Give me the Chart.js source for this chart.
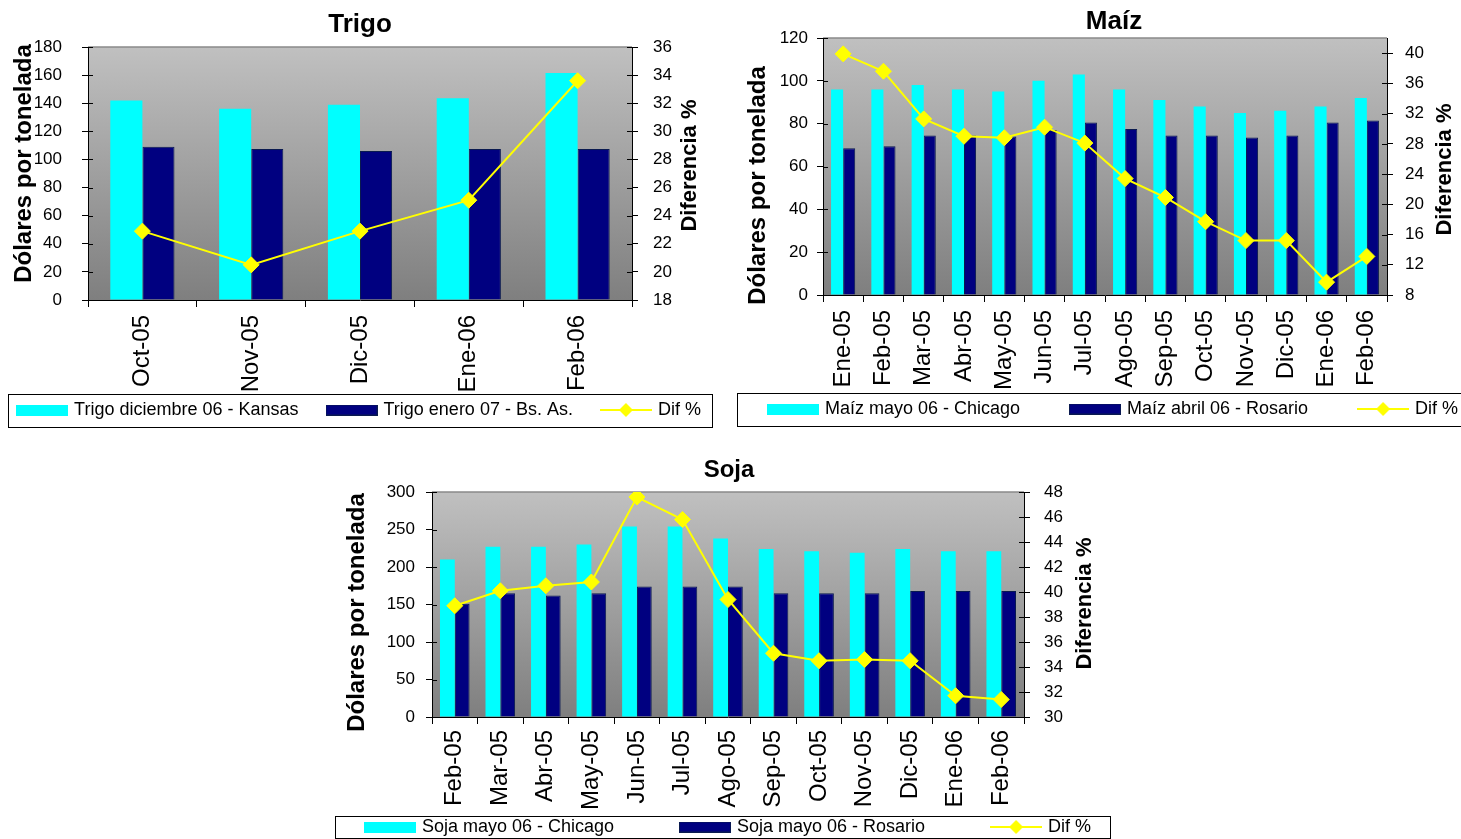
<!DOCTYPE html>
<html><head><meta charset="utf-8">
<script src="https://cdn.jsdelivr.net/npm/chart.js@4"></script>
<style>
html,body{margin:0;padding:0;background:#fff;overflow:hidden;width:1461px;height:839px;position:relative}
.cbox{position:absolute}
</style></head><body>
<div class="cbox" id="b1" style="left:-20px;top:0px;width:760px;height:429px"><canvas id="c1"></canvas></div>
<div class="cbox" id="b2" style="left:694px;top:0px;width:840px;height:428px"><canvas id="c2"></canvas></div>
<div class="cbox" id="b3" style="left:279px;top:450px;width:900px;height:396px"><canvas id="c3"></canvas></div>
<script>
// ---------------- DATA ----------------
const trigoTitle = 'Trigo';
const trigoCategories = ['Oct-05','Nov-05','Dic-05','Ene-06','Feb-06'];
const trigoLabels = ['Trigo diciembre 06 - Kansas','Trigo enero 07 - Bs. As.','Dif %'];
const trigoKansas = [142,136,139,143.5,161.5];
const trigoBsAs = [109,107.5,106,107.5,107.5];
const trigoDif = [22.9,20.5,22.9,25.1,33.6];
const trigoLeftTicks = {min:0,max:180,step:20};
const trigoRightTicks = {min:18,max:36,step:2};

const maizTitle = 'Maíz';
const maizCategories = ['Ene-05','Feb-05','Mar-05','Abr-05','May-05','Jun-05','Jul-05','Ago-05','Sep-05','Oct-05','Nov-05','Dic-05','Ene-06','Feb-06'];
const maizLabels = ['Maíz mayo 06 - Chicago','Maíz abril 06 - Rosario','Dif %'];
const maizChicago = [96,96,98,96,95,100,103,96,91,88,85,86,88,92];
const maizRosario = [68.5,69.5,74.5,74.5,74,77,80.5,77.5,74.5,74.5,73.5,74.5,80.5,81.5];
const maizDif = [39.9,37.6,31.3,29.0,28.8,30.2,28.1,23.4,20.9,17.7,15.2,15.2,9.7,13.1];
const maizLeftTicks = {min:0,max:120,step:20};
const maizRightTicks = {min:8,max:42,step:4};

const sojaTitle = 'Soja';
const sojaCategories = ['Feb-05','Mar-05','Abr-05','May-05','Jun-05','Jul-05','Ago-05','Sep-05','Oct-05','Nov-05','Dic-05','Ene-06','Feb-06'];
const sojaLabels = ['Soja mayo 06 - Chicago','Soja mayo 06 - Rosario','Dif %'];
const sojaChicago = [210,227,227,230,254,254,238,224,221,219,224,221,221];
const sojaRosario = [151,165,162,165,174,174,174,165,165,165,168,168,168];
const sojaDif = [38.9,40.1,40.5,40.8,47.6,45.8,39.4,35.1,34.5,34.6,34.5,31.7,31.4];
const sojaLeftTicks = {min:0,max:300,step:50};
const sojaRightTicks = {min:30,max:48,step:2};

const leftAxisTitle = 'Dólares por tonelada';
const rightAxisTitle = 'Diferencia %';

// ---------------- STYLE ----------------
const FONT = '"Liberation Sans", Arial, Helvetica, sans-serif';
const CYAN = '#00ffff', NAVY = '#000080', YELLOW = '#ffff00';
Chart.defaults.font.family = FONT;
Chart.defaults.color = '#000';
Chart.defaults.animation = false;

function swatch(color, border) {
  const c = document.createElement('canvas'); c.width = 52; c.height = 11;
  const x = c.getContext('2d'); x.fillStyle = color; x.fillRect(0,0,52,11);
  if (border) { x.strokeStyle = border; x.lineWidth = 1; x.strokeRect(0.5,0.5,51,10); }
  return c;
}
function lineMark() {
  const c = document.createElement('canvas'); c.width = 52; c.height = 16;
  const x = c.getContext('2d');
  x.strokeStyle = YELLOW; x.lineWidth = 2; x.beginPath(); x.moveTo(0,8); x.lineTo(52,8); x.stroke();
  x.fillStyle = YELLOW; x.beginPath(); x.moveTo(26,1); x.lineTo(33,8); x.lineTo(26,15); x.lineTo(19,8); x.closePath(); x.fill();
  return c;
}
const legendMarks = [swatch(CYAN), swatch(NAVY,'#0a1a50'), lineMark()];

const plotBg = {
  id: 'plotBg',
  beforeDraw(chart) {
    const {ctx, chartArea: a} = chart;
    const g = ctx.createLinearGradient(0, a.top, 0, a.bottom);
    g.addColorStop(0, '#c0c0c0'); g.addColorStop(1, '#7f7f7f');
    ctx.save(); ctx.fillStyle = g; ctx.fillRect(a.left, a.top, a.width, a.height);
    ctx.strokeStyle = '#8a8a8a'; ctx.lineWidth = 1.5;
    ctx.beginPath(); ctx.moveTo(a.left, a.top); ctx.lineTo(a.right, a.top); ctx.stroke();
    ctx.restore();
  }
};
// x tick labels are long rotated texts: let them extend below the axis box
const labelRoom = {
  id: 'labelRoom',
  afterLayout(chart) {
    const s = chart.scales.x;
    s.bottom = chart.height; s.height = s.bottom - s.top;
  }
};
// inner half of the "cross" tick marks on the value axes
const innerTicks = {
  id: 'innerTicks',
  afterDraw(chart) {
    const {ctx, chartArea: a} = chart;
    ctx.save(); ctx.strokeStyle = '#000'; ctx.lineWidth = 1;
    ['y','y1'].forEach(id => {
      const s = chart.scales[id];
      const x0 = id === 'y' ? a.left : a.right;
      const dir = id === 'y' ? 1 : -1;
      s.ticks.forEach(t => {
        const py = Math.round(s.getPixelForValue(t.value)) + 0.5;
        ctx.beginPath(); ctx.moveTo(x0, py); ctx.lineTo(x0 + dir * 5, py); ctx.stroke();
      });
    });
    ctx.restore();
  }
};
// axis titles, both reading bottom-to-top as in the original
const axisTitles = {
  id: 'axisTitles',
  afterDraw(chart, args, o) {
    const {ctx, chartArea: a} = chart;
    const mid = (a.top + a.bottom) / 2;
    const draw = (text, x, y, size) => {
      ctx.save(); ctx.translate(x, y); ctx.rotate(-Math.PI / 2);
      ctx.font = 'bold ' + size + 'px ' + FONT;
      ctx.fillStyle = '#000'; ctx.textAlign = 'center'; ctx.textBaseline = 'middle';
      ctx.fillText(text, 0, 0); ctx.restore();
    };
    draw(o.left, a.left - o.leftOffset, mid + o.leftShift, 24);
    draw(o.right, a.right + o.rightOffset, mid + o.rightShift, 22);
  }
};
const legendFrame = {
  id: 'legendFrame',
  afterDraw(chart, args, o) {
    const lg = chart.legend, ctx = chart.ctx;
    const lo = lg.options.labels;
    const cy = lg.top + lo.padding + lo.font.size / 2;
    ctx.save(); ctx.strokeStyle = '#000'; ctx.lineWidth = 1;
    const x0 = Math.round(lg.left + o.insetLeft) + 0.5, x1 = Math.round(lg.right - o.insetRight) + 0.5;
    const y0 = Math.round(cy - o.half) + 0.5, y1 = Math.round(cy + o.half) + 0.5;
    ctx.strokeRect(x0, y0, x1 - x0, y1 - y0);
    ctx.restore();
  }
};

function filterTicks(r) {
  return (s) => { s.ticks = s.ticks.filter(t => Math.abs(((t.value - r.min) / r.step) - Math.round((t.value - r.min) / r.step)) < 1e-6); };
}

function makeChart(id, d, L) {
  return new Chart(document.getElementById(id), {
    type: 'bar',
    data: {
      labels: d.categories,
      datasets: [
        {label: d.labels[0], data: d.a, backgroundColor: CYAN, borderWidth: 0, yAxisID: 'y',
         categoryPercentage: L.catPct, barPercentage: 1.0},
        {label: d.labels[1], data: d.b, backgroundColor: NAVY, borderColor: '#0a1a50', borderWidth: 1, yAxisID: 'y',
         categoryPercentage: L.catPct, barPercentage: 1.0},
        {type: 'line', label: d.labels[2], data: d.dif, yAxisID: 'y1', order: -1,
         borderColor: YELLOW, borderWidth: 2, backgroundColor: YELLOW, tension: 0,
         pointStyle: 'rectRot', pointRadius: 8, pointHoverRadius: 8,
         pointBackgroundColor: YELLOW, pointBorderColor: YELLOW, pointBorderWidth: 1}
      ]
    },
    options: {
      responsive: true, maintainAspectRatio: false,
      layout: {padding: 0},
      plugins: {
        title: {display: true, text: d.title, color: '#000',
                font: {size: L.titleSize, weight: 'bold'}, padding: {top: L.titleTop, bottom: L.titleBottom}},
        legend: {display: true, position: 'bottom',
          labels: {usePointStyle: true, pointStyleWidth: 46, padding: L.legendPad, color: '#000',
                   font: {size: 18},
                   sort: (a, b) => a.datasetIndex - b.datasetIndex,
                   generateLabels(chart) {
                     const items = Chart.defaults.plugins.legend.labels.generateLabels(chart);
                     items.forEach(it => { it.pointStyle = legendMarks[it.datasetIndex]; it.rotation = 0; });
                     return items;
                   }}},
        tooltip: {enabled: false},
        axisTitles: {left: leftAxisTitle, right: rightAxisTitle,
                     leftOffset: L.leftTitleOffset, leftShift: L.leftTitleShift,
                     rightOffset: L.rightTitleOffset, rightShift: L.rightTitleShift},
        legendFrame: {insetLeft: L.frameLeft, insetRight: L.frameRight, half: L.frameHalf}
      },
      scales: {
        x: {
          type: 'category', offset: true,
          grid: {offset: true, drawOnChartArea: false, drawTicks: true, tickLength: 7, color: '#000', lineWidth: 1},
          border: {display: true, color: '#000', width: 1},
          ticks: {autoSkip: false, maxRotation: 90, minRotation: 90, padding: L.xPad, font: {size: 24}, color: '#000'},
          afterFit: (s) => { s.height = L.xHeight; }
        },
        y: {
          position: 'left', min: d.left.min, max: d.left.max,
          ticks: {stepSize: d.left.step, includeBounds: false, padding: L.yPad, font: {size: 17}, color: '#000'},
          grid: {drawOnChartArea: false, tickLength: 6, color: '#000'},
          border: {display: true, color: '#000', width: 1},
          afterBuildTicks: filterTicks(d.left),
          afterFit: (s) => { s.width = L.yWidth; }
        },
        y1: {
          position: 'right', min: d.right.min, max: d.right.max,
          ticks: {stepSize: d.right.step, includeBounds: false, padding: L.y1Pad, font: {size: 17}, color: '#000'},
          grid: {drawOnChartArea: false, tickLength: 6, color: '#000'},
          border: {display: true, color: '#000', width: 1},
          afterBuildTicks: filterTicks(d.right),
          afterFit: (s) => { s.width = L.y1Width; }
        }
      }
    },
    plugins: [plotBg, labelRoom, innerTicks, axisTitles, legendFrame]
  });
}

makeChart('c1',
  {title: trigoTitle, categories: trigoCategories, labels: trigoLabels, a: trigoKansas, b: trigoBsAs, dif: trigoDif,
   left: trigoLeftTicks, right: trigoRightTicks},
  {catPct: 0.59, titleSize: 26, titleTop: 9.4, titleBottom: 6.4, legendPad: 30, xHeight: 71, xPad: 8,
   yWidth: 108, y1Width: 108, yPad: 20, y1Pad: 15,
   leftTitleOffset: 64, leftTitleShift: -10, rightTitleOffset: 58, rightTitleShift: -8,
   frameLeft: 28, frameRight: 28, frameHalf: 16.5});

makeChart('c2',
  {title: maizTitle, categories: maizCategories, labels: maizLabels, a: maizChicago, b: maizRosario, dif: maizDif,
   left: maizLeftTicks, right: maizRightTicks},
  {catPct: 0.6, titleSize: 26, titleTop: 6.4, titleBottom: 0.4, legendPad: 52, xHeight: 53, xPad: 8,
   yWidth: 129, y1Width: 147, yPad: 9, y1Pad: 12,
   leftTitleOffset: 65, leftTitleShift: 19, rightTitleOffset: 58, rightTitleShift: 3,
   frameLeft: 43, frameRight: 40, frameHalf: 16.5});

makeChart('c3',
  {title: sojaTitle, categories: sojaCategories, labels: sojaLabels, a: sojaChicago, b: sojaRosario, dif: sojaDif,
   left: sojaLeftTicks, right: sojaRightTicks},
  {catPct: 0.65, titleSize: 24, titleTop: 5.6, titleBottom: 7.6, legendPad: 68, xHeight: 33, xPad: 6,
   yWidth: 153, y1Width: 155, yPad: 11, y1Pad: 14,
   leftTitleOffset: 75, leftTitleShift: 8, rightTitleOffset: 61, rightTitleShift: -1,
   frameLeft: 56, frameRight: 69, frameHalf: 11});
</script>
</body></html>
